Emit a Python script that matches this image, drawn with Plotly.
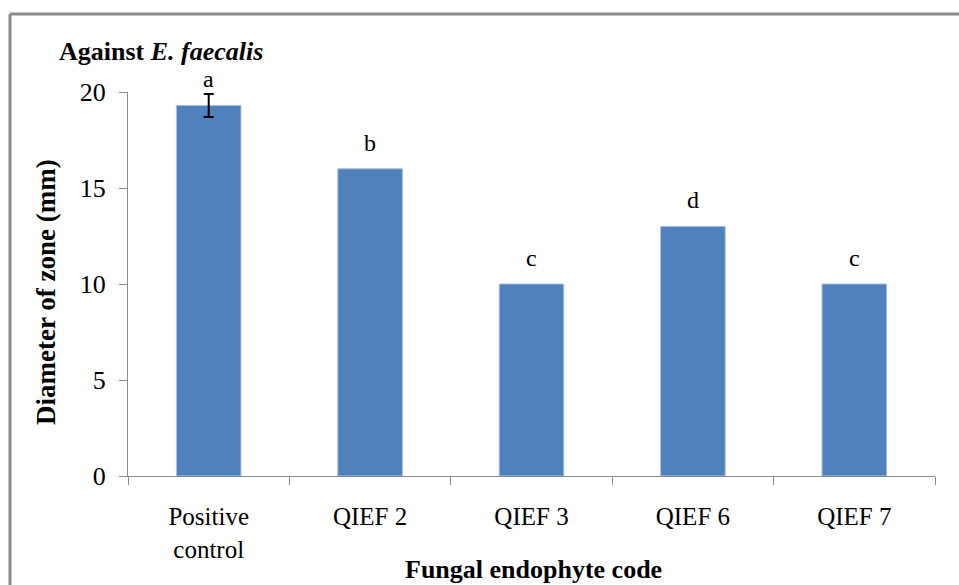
import plotly.graph_objects as go

categories = ["Positive<br>control", "QIEF 2", "QIEF 3", "QIEF 6", "QIEF 7"]
values = [19.3, 16.0, 10.0, 13.0, 10.0]
errors = [0.6, 0, 0, 0, 0]
letters = ["a", "b", "c", "d", "c"]
y_ticks = [0, 5, 10, 15, 20]

W, H = 959, 585
L, R, T, B = 128, 24, 92, 109
pw, ph = W - L - R, H - T - B

def px_x(x):
    return (x - L) / pw

def px_y(y):
    return (H - B - y) / ph

serif = "Times New Roman"

fig = go.Figure()
fig.add_trace(go.Bar(
    x=categories, y=values, width=0.4,
    marker=dict(color="#4F81BD", line=dict(color="#A7C0E0", width=1)),
    showlegend=False, hoverinfo="skip",
))
err_idx = [i for i, e in enumerate(errors) if e > 0]
fig.add_trace(go.Scatter(
    x=[categories[i] for i in err_idx], y=[values[i] for i in err_idx],
    mode="markers", marker=dict(size=1, opacity=0),
    error_y=dict(type="data", array=[errors[i] for i in err_idx], visible=True,
                 color="black", thickness=2, width=5),
    showlegend=False, hoverinfo="skip",
))

annotations = []
for c, v, l in zip(categories, values, letters):
    annotations.append(dict(x=c, y=v, xref="x", yref="y", text=l, showarrow=False,
                            yanchor="middle", yshift=26,
                            font=dict(family=serif, size=24, color="black")))

annotations.append(dict(x=px_x(57), y=px_y(51), xref="paper", yref="paper",
                        xanchor="left", yanchor="middle", showarrow=False,
                        text="<b>Against <i>E. faecalis</i></b>",
                        font=dict(family=serif, size=26, color="black")))
annotations.append(dict(x=px_x(46), y=px_y(292), xref="paper", yref="paper",
                        xanchor="center", yanchor="middle", showarrow=False,
                        textangle=-90, text="<b>Diameter of zone (mm)</b>",
                        font=dict(family=serif, size=27, color="black")))
annotations.append(dict(x=px_x(533), y=px_y(569), xref="paper", yref="paper",
                        xanchor="center", yanchor="middle", showarrow=False,
                        text="<b>Fungal endophyte code</b>",
                        font=dict(family=serif, size=26, color="black")))

fig.update_layout(
    width=W, height=H,
    margin=dict(l=L, r=R, t=T, b=B),
    paper_bgcolor="white", plot_bgcolor="white",
    font=dict(family=serif, color="black"),
    annotations=annotations,
    shapes=[
        dict(type="line", xref="paper", yref="paper",
             x0=px_x(10), x1=px_x(10), y0=px_y(14), y1=px_y(H + 20),
             line=dict(color="#8C8C8C", width=3)),
        dict(type="line", xref="paper", yref="paper",
             x0=px_x(10), x1=px_x(W + 20), y0=px_y(14), y1=px_y(14),
             line=dict(color="#8C8C8C", width=3)),
    ],
    xaxis=dict(showline=True, linecolor="#8C8C8C", linewidth=1,
               ticks="outside", ticklen=8, tickcolor="#8C8C8C",
               tickson="boundaries", showgrid=False,
               ticklabelstandoff=18,
               tickfont=dict(family=serif, size=25, color="black")),
    yaxis=dict(range=[0, 20], tickvals=y_ticks, showline=True,
               linecolor="#8C8C8C", linewidth=1, ticks="outside", ticklen=8,
               tickcolor="#8C8C8C", showgrid=False, zeroline=False,
               ticklabelstandoff=8,
               tickfont=dict(family=serif, size=26, color="black")),
)

fig.write_html("out.html")
